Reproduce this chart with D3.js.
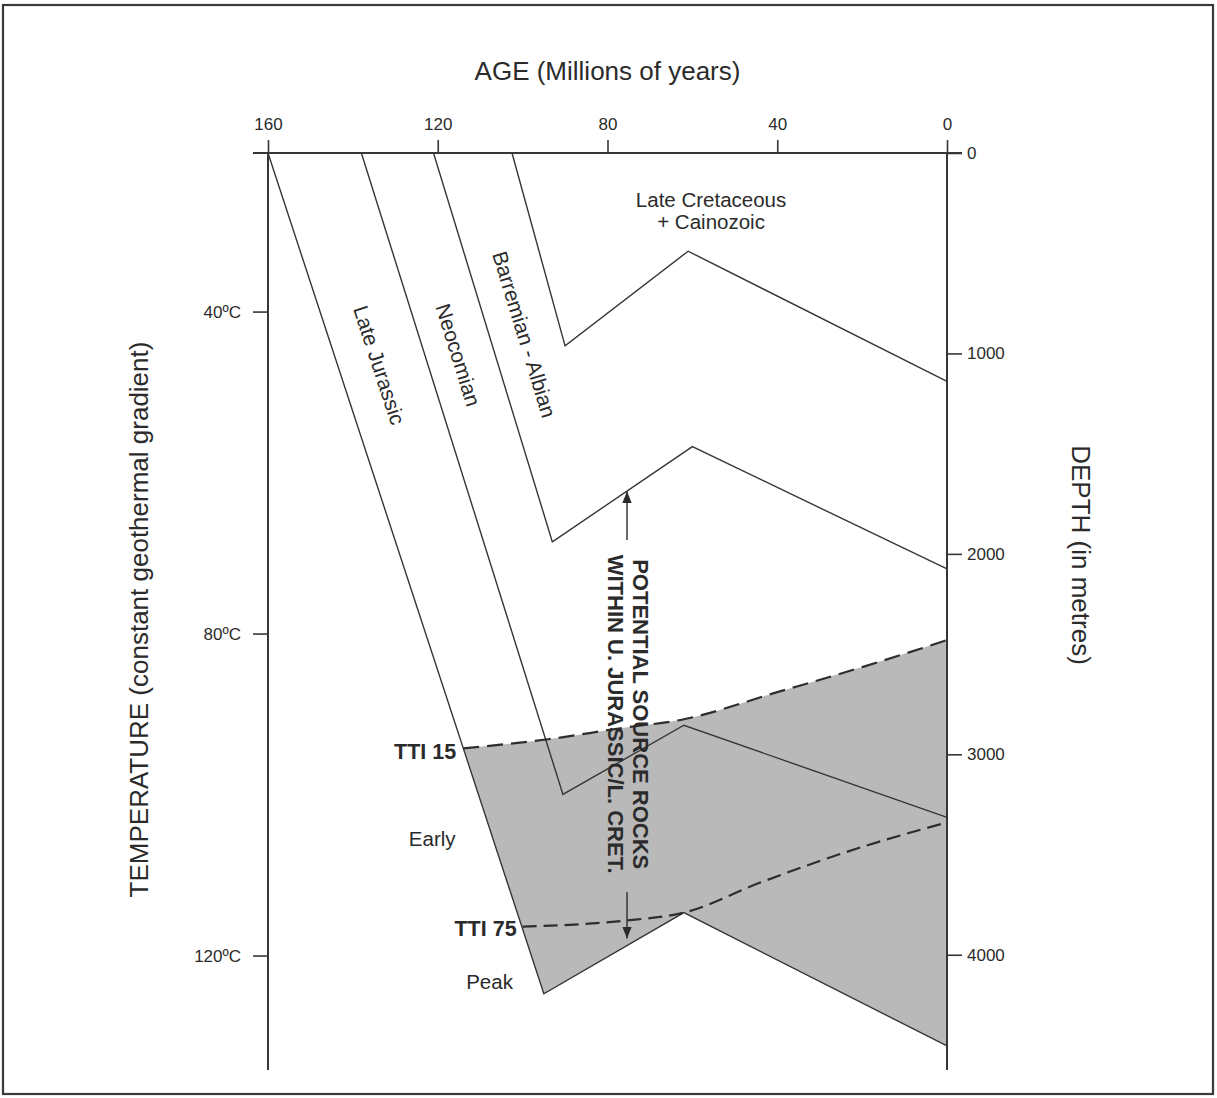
<!DOCTYPE html>
<html>
<head>
<meta charset="utf-8">
<script src="https://cdn.jsdelivr.net/npm/d3@7/dist/d3.min.js"></script>
<style>
  html, body { margin: 0; padding: 0; background: #fff; }
  svg { display: block; }
  text { font-family: "Liberation Sans", Arial, Helvetica, sans-serif; fill: #2b2b2b; }
</style>
</head>
<body>
<svg id="chart" width="1217" height="1098"></svg>
<script>
// Burial history: age (Ma) vs depth (m) for each horizon base
const ageTicks = [160, 120, 80, 40, 0];
const depthTicks = [0, 1000, 2000, 3000, 4000];
const tempTicks = [40, 80, 120];
const tempTickLabels = ["40ºC", "80ºC", "120ºC"];

// [age Ma, depth m]
const lateJurassic = [[160, 0], [95, 4195], [62, 3790], [0, 4455]];
const neocomian = [[138, 0], [90.5, 3200], [62, 2855], [0, 3315]];
const barremianAlbian = [[121, 0], [93, 1940], [60, 1465], [0, 2075]];
const lateCretaceous = [[102.5, 0], [90, 962], [61, 490], [0, 1140]];

// maturity isolines
const tti15 = [[114, 2970], [94, 2925], [77, 2870], [62, 2825], [40, 2690], [20, 2565], [0, 2430]];
const tti75 = [[100, 3860], [76, 3830], [62, 3790], [44, 3640], [20, 3462], [0, 3340]];

// constant geothermal gradient
const surfaceTemp = 20.3;    // ºC
const gradient = 24.9;       // ºC per km

const svg = d3.select("#chart");
const W = 1217, H = 1098;

const maxDepth = 4575;
const x = d3.scaleLinear().domain([160, 0]).range([268, 947]);
const y = d3.scaleLinear().domain([0, maxDepth]).range([153, 1070]);
const t = d3.scaleLinear()
  .domain([surfaceTemp, surfaceTemp + gradient * maxDepth / 1000])
  .range([153, 1070]);

const ink = "#363636";

// outer frame
svg.append("rect")
  .attr("x", 3).attr("y", 5).attr("width", W - 7).attr("height", H - 9)
  .attr("fill", "#fff").attr("stroke", "#3a3a3a").attr("stroke-width", 2.2);

const straight = d3.line().x(d => x(d[0])).y(d => y(d[1]));
const smooth = d3.line().x(d => x(d[0])).y(d => y(d[1])).curve(d3.curveMonotoneX);

// oil window: between TTI 15 and the base of the Late Jurassic
const lowerEdge = lateJurassic.filter(d => d[0] < tti15[0][0]).reverse();
const windowPath = smooth(tti15) + straight(lowerEdge.concat([tti15[0]])).replace(/^M/, "L") + "Z";
svg.append("path")
  .attr("d", windowPath)
  .attr("fill", "#b9b9b9")
  .attr("stroke", "none");

// horizon burial curves
[lateJurassic, neocomian, barremianAlbian, lateCretaceous].forEach(h => {
  svg.append("path")
    .attr("d", straight(h))
    .attr("fill", "none")
    .attr("stroke", ink)
    .attr("stroke-width", 1.4)
    .attr("stroke-linejoin", "miter");
});

// TTI isolines
svg.append("path")
  .attr("d", smooth(tti15))
  .attr("fill", "none").attr("stroke", "#2e2e2e")
  .attr("stroke-width", 2.2).attr("stroke-dasharray", "16 8");
svg.append("path")
  .attr("d", smooth(tti75))
  .attr("fill", "none").attr("stroke", "#2e2e2e")
  .attr("stroke-width", 2.2).attr("stroke-dasharray", "14 7");

// top age axis
const topAxis = svg.append("g").attr("transform", `translate(0,${y(0)})`)
  .call(d3.axisTop(x).tickValues(ageTicks).tickSize(13).tickPadding(10).tickFormat(d3.format("d")));
topAxis.select(".domain").remove();
svg.append("line")
  .attr("x1", x(160) - 15).attr("x2", x(0) + 15)
  .attr("y1", y(0)).attr("y2", y(0))
  .attr("stroke", ink).attr("stroke-width", 2);

// left temperature axis
const leftAxis = svg.append("g").attr("transform", `translate(${x(160)},0)`)
  .call(d3.axisLeft(t).tickValues(tempTicks).tickSize(15).tickPadding(12)
    .tickFormat((d, i) => tempTickLabels[i]));
leftAxis.select(".domain").remove();
svg.append("line")
  .attr("x1", x(160)).attr("x2", x(160))
  .attr("y1", y(0)).attr("y2", y(maxDepth))
  .attr("stroke", ink).attr("stroke-width", 2);

// right depth axis
const rightAxis = svg.append("g").attr("transform", `translate(${x(0)},0)`)
  .call(d3.axisRight(y).tickValues(depthTicks).tickSize(15).tickPadding(5).tickFormat(d3.format("d")));
rightAxis.select(".domain").remove();
svg.append("line")
  .attr("x1", x(0)).attr("x2", x(0))
  .attr("y1", y(0)).attr("y2", y(maxDepth))
  .attr("stroke", ink).attr("stroke-width", 2);

svg.selectAll(".tick line").attr("stroke", ink).attr("stroke-width", 1.6);
svg.selectAll(".tick text")
  .attr("font-size", 17)
  .attr("font-family", "'Liberation Sans', Arial, sans-serif")
  .attr("fill", "#2b2b2b");

// axis titles
svg.append("text")
  .attr("x", (x(160) + x(0)) / 2).attr("y", 80)
  .attr("text-anchor", "middle").attr("font-size", 26)
  .text("AGE (Millions of years)");
svg.append("text")
  .attr("transform", `translate(148,${(y(0) + y(maxDepth)) / 2 + 8}) rotate(-90)`)
  .attr("text-anchor", "middle").attr("font-size", 26)
  .text("TEMPERATURE (constant geothermal gradient)");
svg.append("text")
  .attr("transform", `translate(1072,555) rotate(90)`)
  .attr("text-anchor", "middle").attr("font-size", 26)
  .text("DEPTH (in metres)");

// horizon labels, set parallel to each burial curve
function slopeAngle(h) {
  const dx = x(h[1][0]) - x(h[0][0]);
  const dy = y(h[1][1]) - y(h[0][1]);
  return Math.atan2(dy, dx) * 180 / Math.PI;
}
const horizonLabels = [
  { text: "Late Jurassic", at: [133.8, 1058], h: lateJurassic },
  { text: "Neocomian", at: [115.2, 1008], h: neocomian },
  { text: "Barremian - Albian", at: [99.6, 905], h: barremianAlbian }
];
horizonLabels.forEach(l => {
  svg.append("text")
    .attr("transform", `translate(${x(l.at[0])},${y(l.at[1])}) rotate(${slopeAngle(l.h)})`)
    .attr("text-anchor", "middle").attr("dy", "0.35em")
    .attr("font-size", 21)
    .text(l.text);
});

svg.append("text")
  .attr("x", x(55.6)).attr("y", y(270))
  .attr("text-anchor", "middle").attr("font-size", 20.5)
  .text("Late Cretaceous");
svg.append("text")
  .attr("x", x(55.6)).attr("y", y(380))
  .attr("text-anchor", "middle").attr("font-size", 20.5)
  .text("+ Cainozoic");

// maturity labels
svg.append("text")
  .attr("x", x(tti15[0][0]) - 7).attr("y", y(tti15[0][1]) + 3)
  .attr("text-anchor", "end").attr("dy", "0.35em")
  .attr("font-size", 21.5).attr("font-weight", "bold")
  .text("TTI 15");
svg.append("text")
  .attr("x", x(tti75[0][0]) - 6).attr("y", y(tti75[0][1]) + 2)
  .attr("text-anchor", "end").attr("dy", "0.35em")
  .attr("font-size", 21.5).attr("font-weight", "bold")
  .text("TTI 75");
svg.append("text")
  .attr("x", x(121.3)).attr("y", y(3455))
  .attr("text-anchor", "middle").attr("font-size", 20.5)
  .text("Early");
svg.append("text")
  .attr("x", x(107.8)).attr("y", y(4170))
  .attr("text-anchor", "middle").attr("font-size", 20.5)
  .text("Peak");

// source rock annotation with arrows
const arrowAge = 75.4;
const defs = svg.append("defs");
defs.append("marker")
  .attr("id", "arrowhead")
  .attr("viewBox", "0 0 10 10").attr("refX", 10).attr("refY", 5)
  .attr("markerWidth", 12).attr("markerHeight", 12)
  .attr("markerUnits", "userSpaceOnUse")
  .attr("orient", "auto")
  .append("path").attr("d", "M0,1 L10,5 L0,9 Z").attr("fill", "#2b2b2b");

svg.append("line")
  .attr("x1", x(arrowAge)).attr("x2", x(arrowAge))
  .attr("y1", y(1931)).attr("y2", y(1688))
  .attr("stroke", "#2b2b2b").attr("stroke-width", 1.4)
  .attr("marker-end", "url(#arrowhead)");
svg.append("line")
  .attr("x1", x(arrowAge)).attr("x2", x(arrowAge))
  .attr("y1", y(3687)).attr("y2", y(3919))
  .attr("stroke", "#2b2b2b").attr("stroke-width", 1.4)
  .attr("marker-end", "url(#arrowhead)");

const srcLines = ["POTENTIAL SOURCE ROCKS", "WITHIN U. JURASSIC/L. CRET."];
srcLines.forEach((s, i) => {
  svg.append("text")
    .attr("transform", `translate(${x(arrowAge) + 14 - i * 25},${y(2800)}) rotate(90)`)
    .attr("text-anchor", "middle").attr("dy", "0.35em")
    .attr("font-size", 22).attr("font-weight", "bold")
    .text(s);
});
</script>
</body>
</html>
